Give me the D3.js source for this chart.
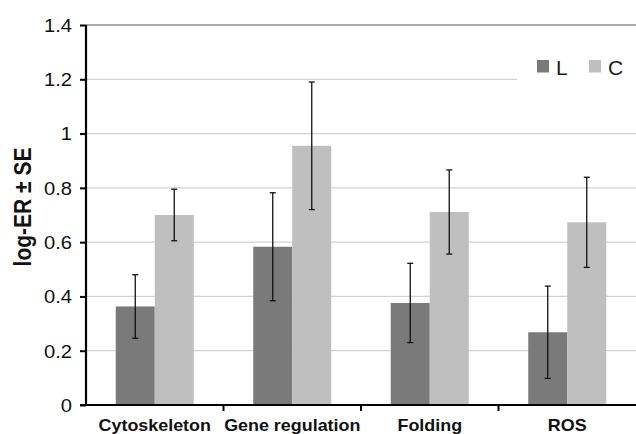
<!DOCTYPE html>
<html>
<head>
<meta charset="utf-8">
<script src="https://cdn.jsdelivr.net/npm/d3@7"></script>
<style>
  html, body { margin: 0; padding: 0; background: #fff; }
  svg { display: block; }
</style>
</head>
<body>
<svg id="chart" width="636" height="434"></svg>
<script>
const categories = ["Cytoskeleton", "Gene regulation", "Folding", "ROS"];
const seriesNames = ["L", "C"];
const valuesL = [0.363, 0.583, 0.376, 0.268];
const valuesC = [0.700, 0.955, 0.711, 0.673];
const seL = [0.117, 0.199, 0.146, 0.170];
const seC = [0.095, 0.235, 0.155, 0.166];
const yTicks = [0, 0.2, 0.4, 0.6, 0.8, 1, 1.2, 1.4];
const yTitle = "log-ER \u00b1 SE";

(function () {
const colors = { L: "#7a7a7a", C: "#bfbfbf" };
const font = "'Liberation Sans', Arial, Helvetica, sans-serif";
const sx = 1.12; // horizontal stretch of the source image

const svg = d3.select("#chart");
const pLeft = 86, pRight = 636, pTop = 25, pBottom = 405;

const x = d3.scaleBand().domain(categories).range([pLeft, pRight]).padding(0);
const xs = d3.scaleBand().domain(seriesNames).range([0, x.bandwidth()])
  .paddingInner(0).paddingOuter(0.763);
const y = d3.scaleLinear().domain([0, 1.4]).range([pBottom, pTop]);

const data = categories.map((c, i) => ({
  cat: c,
  series: [
    { key: "L", v: valuesL[i], se: seL[i] },
    { key: "C", v: valuesC[i], se: seC[i] }
  ]
}));

// gridlines
svg.append("g")
  .selectAll("line")
  .data(yTicks.filter(t => t > 0))
  .join("line")
  .attr("x1", pLeft).attr("x2", pRight)
  .attr("y1", d => y(d)).attr("y2", d => y(d))
  .attr("stroke", d => d === 1.4 ? "#8c8c8c" : "#d2d2d2")
  .attr("stroke-width", d => d === 1.4 ? 1.5 : 1.3);

// legend background (hides part of gridline)
const lg = svg.append("g");
lg.append("rect").attr("x", 517).attr("y", 45).attr("width", 119).attr("height", 48).attr("fill", "#fff");

// bars
const groups = svg.append("g").selectAll("g")
  .data(data).join("g")
  .attr("transform", d => `translate(${x(d.cat)},0)`);

groups.selectAll("rect")
  .data(d => d.series).join("rect")
  .attr("x", d => xs(d.key))
  .attr("width", xs.bandwidth())
  .attr("y", d => y(d.v))
  .attr("height", d => y(0) - y(d.v))
  .attr("fill", d => colors[d.key]);

// error bars
const eb = groups.selectAll("g.err")
  .data(d => d.series).join("g").attr("class", "err")
  .attr("stroke", "#111").attr("stroke-width", 1.3);
eb.append("line")
  .attr("x1", d => xs(d.key) + xs.bandwidth() / 2)
  .attr("x2", d => xs(d.key) + xs.bandwidth() / 2)
  .attr("y1", d => y(d.v + d.se)).attr("y2", d => y(d.v - d.se));
eb.append("line")
  .attr("x1", d => xs(d.key) + xs.bandwidth() / 2 - 3)
  .attr("x2", d => xs(d.key) + xs.bandwidth() / 2 + 3)
  .attr("y1", d => y(d.v + d.se)).attr("y2", d => y(d.v + d.se));
eb.append("line")
  .attr("x1", d => xs(d.key) + xs.bandwidth() / 2 - 3)
  .attr("x2", d => xs(d.key) + xs.bandwidth() / 2 + 3)
  .attr("y1", d => y(d.v - d.se)).attr("y2", d => y(d.v - d.se));

// y axis
const yAxis = svg.append("g")
  .attr("transform", `translate(${pLeft},0)`)
  .call(d3.axisLeft(y).tickValues(yTicks).tickSize(6).tickPadding(8).tickFormat(d3.format("~g")));
yAxis.select(".domain").attr("stroke", "#000").attr("stroke-width", 2.2)
  .attr("d", `M0,${pTop}V${pBottom + 1}`);
yAxis.selectAll(".tick line").attr("stroke", "#000").attr("stroke-width", 2);
yAxis.selectAll(".tick text")
  .attr("fill", "#111").attr("font-family", font).attr("font-size", 18)
  .attr("x", null).attr("dy", "0.35em")
  .attr("transform", `translate(-14,0) scale(${sx},1)`);

// x axis
const xAxis = svg.append("g")
  .attr("transform", `translate(0,${pBottom})`)
  .call(d3.axisBottom(x).tickSize(0).tickPadding(0));
xAxis.select(".domain").attr("stroke", "#000").attr("stroke-width", 2.2)
  .attr("d", `M${pLeft - 6},0H${pRight}`);
xAxis.selectAll(".tick text")
  .attr("fill", "#111").attr("font-family", font).attr("font-size", 16)
  .attr("font-weight", "bold").attr("y", null).attr("dy", null)
  .attr("transform", `translate(0,25.5) scale(${sx},1)`);
// category boundary ticks
svg.append("g").selectAll("line")
  .data(categories.slice(1)).join("line")
  .attr("x1", d => x(d)).attr("x2", d => x(d))
  .attr("y1", pBottom).attr("y2", pBottom + 6)
  .attr("stroke", "#000").attr("stroke-width", 2);

// y title
svg.append("text")
  .attr("transform", `translate(31,207) rotate(-90) scale(1,${sx})`)
  .attr("text-anchor", "middle")
  .attr("font-family", font).attr("font-weight", "bold").attr("font-size", 21)
  .attr("fill", "#111")
  .text(yTitle);

// legend
const legendX = d3.scalePoint().domain(seriesNames).range([537, 589]);
const li = lg.selectAll("g.item").data(seriesNames).join("g").attr("class", "item")
  .attr("transform", d => `translate(${legendX(d)},60)`);
li.append("rect").attr("width", 12).attr("height", 12.5).attr("fill", d => colors[d]);
li.append("text").attr("x", 19).attr("y", 14.5)
  .attr("font-family", font).attr("font-size", 21).attr("fill", "#1a1a1a")
  .text(d => d);
})();
</script>
</body>
</html>
